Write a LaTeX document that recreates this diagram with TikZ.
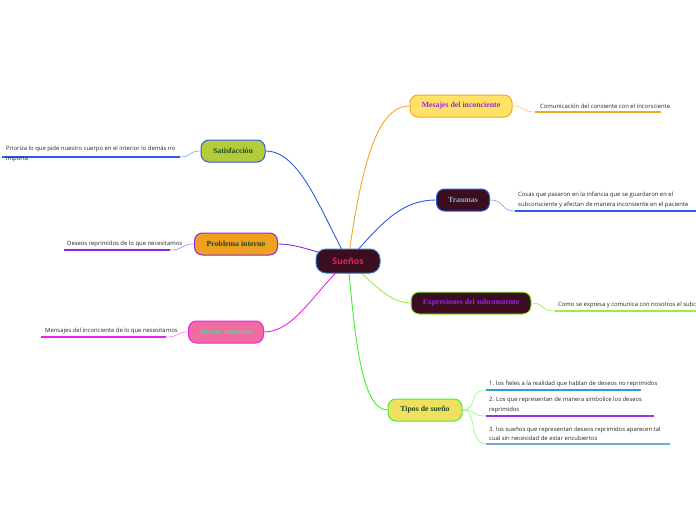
\documentclass[tikz,border=0pt]{standalone}
\usepackage{fontspec}
\newfontfamily\leaffont{Open Sans}
\newfontfamily\topicfont{Liberation Serif}
\usetikzlibrary{backgrounds}
\definecolor{maroon}{HTML}{3A0D1F}
\definecolor{cblue}{HTML}{2B5CE6}
\definecolor{corange}{HTML}{F5A623}
\definecolor{clgreen}{HTML}{99EE44}
\definecolor{cgreen}{HTML}{44EE33}
\definecolor{cpurple}{HTML}{8A2BE2}
\definecolor{cmagenta}{HTML}{EE22EE}
\definecolor{tpurple}{HTML}{A020F0}
\definecolor{tgreen}{HTML}{1E4A1E}
\definecolor{tcenter}{HTML}{E61E5A}
\definecolor{tsky}{HTML}{8CAFC8}
\definecolor{tmint}{HTML}{40E0A0}
\definecolor{fyellow}{HTML}{FFE266}
\definecolor{fyellow2}{HTML}{F0E060}
\definecolor{folive}{HTML}{B5CC3A}
\definecolor{forange}{HTML}{F0A020}
\definecolor{fpink}{HTML}{F06BA0}
\definecolor{ublue}{HTML}{3399DD}
\definecolor{upurple}{HTML}{9933DD}
\definecolor{ulblue}{HTML}{6EAADD}
\definecolor{cborder}{HTML}{2A7AD0}
\tikzset{
  topic/.style={rounded corners=8pt, line width=1pt, minimum height=22pt, inner xsep=6pt, font=\topicfont\bfseries\fontsize{7.8}{8}\selectfont},
  leaf/.style={anchor=south west, inner sep=1pt, align=left, text=black!85, font=\leaffont\fontsize{5.9}{9.5}\selectfont},
  conn/.style={line width=0.9pt},
  twig/.style={line width=0.6pt},
  uline/.style={line width=1.3pt}
}
\begin{document}
\begin{tikzpicture}[x=1pt,y=-1pt]
\useasboundingbox (0,0) rectangle (696,520);
% central
\node[topic, fill=maroon, draw=cborder, text=tcenter, minimum width=64pt, minimum height=24pt, rounded corners=10pt, font=\leaffont\bfseries\fontsize{8.8}{10}\selectfont] (c) at (348,261) {Sueños};
% main topics
\node[topic, fill=fyellow, draw=corange, text=tpurple, minimum width=102pt] (m1) at (461,106) {Mesajes del inconciente};
\node[topic, fill=maroon, draw=cblue, text=tsky, minimum width=53pt] (m2) at (463,200) {Traumas};
\node[topic, fill=maroon, draw=clgreen, text=tpurple, minimum width=120pt] (m3) at (471,303) {Expresiones del subconsiente};
\node[topic, fill=fyellow2, draw=cgreen, text=tgreen, minimum width=74pt] (m4) at (425,410) {Tipos de sueño};
\node[topic, fill=folive, draw=cblue, text=tgreen, minimum width=64pt] (m5) at (233,151) {Satisfacción};
\node[topic, fill=forange, draw=cpurple, text=tgreen, minimum width=83pt] (m6) at (236,244) {Problema interno};
\node[topic, fill=fpink, draw=cmagenta, text=tmint, minimum width=75pt] (m7) at (226,332) {Deseos internos};
% leaf texts
\node[leaf] (l1) at (539,110) {Comunicación del consiente con el incorsciente};
\node[leaf] (l2) at (517,209) {Cosas que pasaron en la infancia que se guardaron en el\\subconsciente y afectan de manera inconsiente en el paciente};
\node[leaf] (l3) at (557,309) {Como se expresa y comunica con nosotros el subconsiente};
\node[leaf] (l4a) at (488,388) {1. los fieles a la realidad que hablan de deseos no reprimidos};
\node[leaf] (l4b) at (488,414) {2. Los que representan de manera simbolice los deseos\\reprimidos};
\node[leaf] (l4c) at (488,442) {3. los sueños que representan deseos reprimidos aparecen tal\\cual sin necesidad de estar encubiertos};
\node[leaf] (l5) at (5,163) {Prioriza lo que pide nuestro cuerpo en el interior lo demás no\\importa};
\node[leaf] (l6) at (66,248) {Deseos reprimidos de lo que necesitamos};
\node[leaf] (l7) at (44,335) {Mensajes del inconciente de lo que nesesitamos};
% underline coordinates
\coordinate (u1a) at (535,112); \coordinate (u1b) at (661,112);
\coordinate (u2a) at (515,211); \coordinate (u2b) at (696,211);
\coordinate (u3a) at (555,311); \coordinate (u3b) at (696,311);
\coordinate (u4a) at (486,390); \coordinate (u4ab) at (641,390);
\coordinate (u4b) at (486,416); \coordinate (u4bb) at (654,416);
\coordinate (u4c) at (486,444); \coordinate (u4cb) at (670,444);
\coordinate (u5a) at (180,157); \coordinate (u5b) at (2,157);
\coordinate (u6a) at (170,250); \coordinate (u6b) at (64,250);
\coordinate (u7a) at (166,337); \coordinate (u7b) at (41,337);
\begin{pgfonlayer}{background}
% center connectors
\draw[conn, corange] (c.center) .. controls (362,160) and (378,106) .. (m1.west);
\draw[conn, cblue] (c.center) .. controls (380,225) and (400,200) .. (m2.west);
\draw[conn, clgreen] (c.center) .. controls (375,285) and (390,303) .. (m3.west);
\draw[conn, cgreen] (c.center) .. controls (355,340) and (362,410) .. (m4.west);
\draw[conn, cblue] (c.center) .. controls (320,210) and (300,151) .. (m5.east);
\draw[conn, cpurple] (c.center) .. controls (310,250) and (295,244) .. (m6.east);
\draw[conn, cmagenta] (c.center) .. controls (315,290) and (295,332) .. (m7.east);
% leaf connectors
\draw[twig, corange!60] (m1.east) .. controls (525,106) and (522,112) .. (u1a);
\draw[uline, corange] (u1a) -- (u1b);
\draw[twig, cblue!60] (m2.east) .. controls (505,200) and (500,211) .. (u2a);
\draw[uline, cblue] (u2a) -- (u2b);
\draw[twig, clgreen] (m3.east) .. controls (545,303) and (540,311) .. (u3a);
\draw[uline, clgreen] (u3a) -- (u3b);
\draw[twig, cgreen!60] (m4.east) .. controls (478,410) and (468,390) .. (u4a);
\draw[twig, cgreen!60] (m4.east) .. controls (478,410) and (470,416) .. (u4b);
\draw[twig, cgreen!60] (m4.east) .. controls (478,410) and (468,444) .. (u4c);
\draw[uline, ublue] (u4a) -- (u4ab);
\draw[uline, upurple] (u4b) -- (u4bb);
\draw[uline, ulblue] (u4c) -- (u4cb);
\draw[twig, cblue!60] (m5.west) .. controls (188,151) and (192,157) .. (u5a);
\draw[uline, cblue] (u5a) -- (u5b);
\draw[twig, cpurple!60] (m6.west) .. controls (180,244) and (185,250) .. (u6a);
\draw[uline, cpurple] (u6a) -- (u6b);
\draw[twig, cmagenta!60] (m7.west) .. controls (176,332) and (180,337) .. (u7a);
\draw[uline, cmagenta] (u7a) -- (u7b);
\end{pgfonlayer}
\end{tikzpicture}
\end{document}
